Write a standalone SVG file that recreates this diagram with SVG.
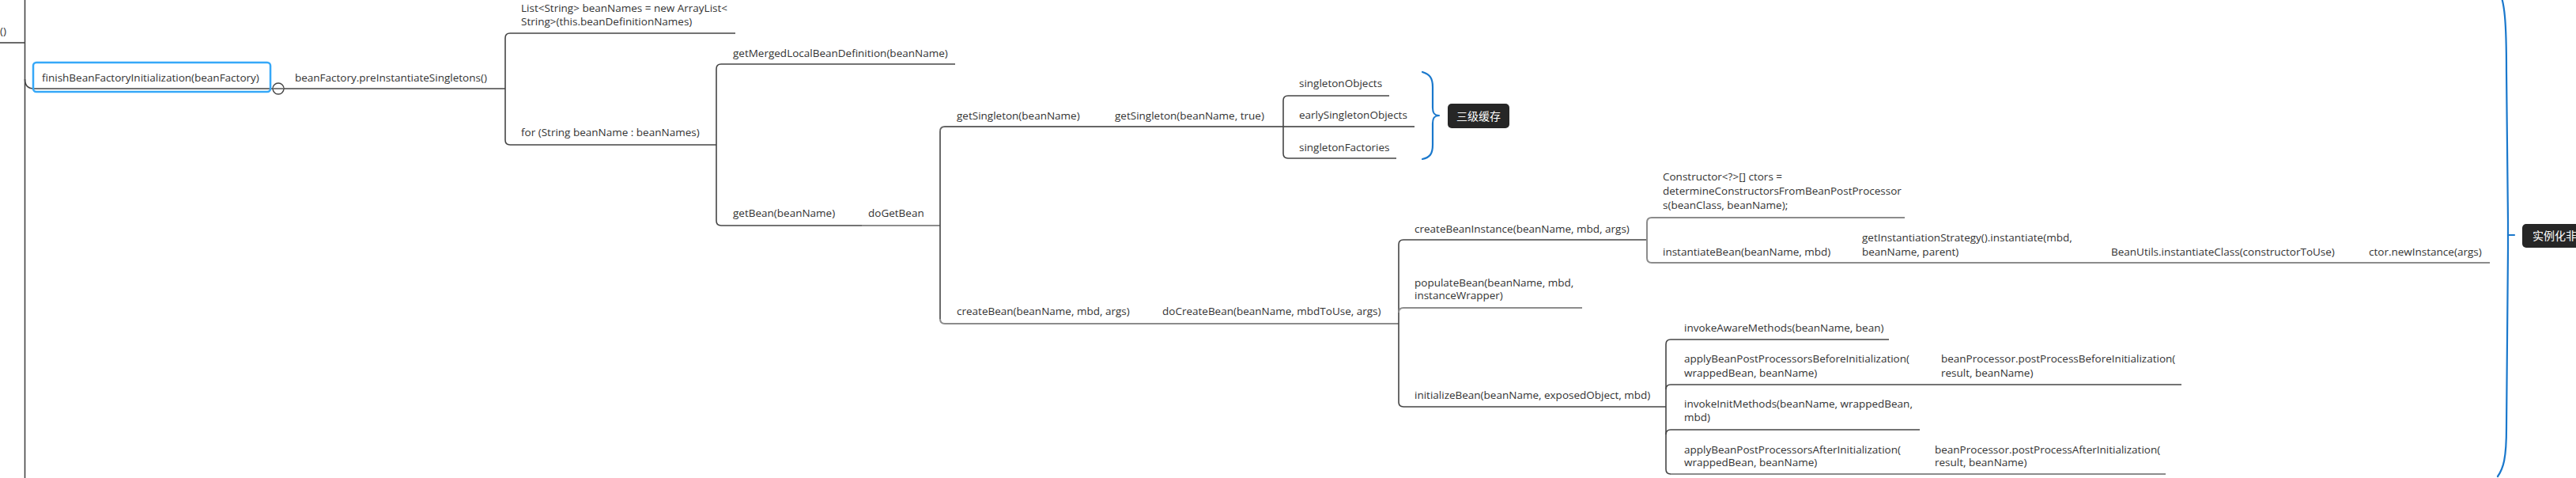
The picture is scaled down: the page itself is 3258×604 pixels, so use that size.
<svg xmlns="http://www.w3.org/2000/svg" width="3258" height="604" viewBox="0 0 3258 604">
<style>
text{font-family:"Open Sans","Noto Sans","Liberation Sans",sans-serif;font-size:13.5px;fill:#333}
.cjk{font-family:"Noto Sans CJK SC","Noto Sans",sans-serif;font-size:14px;fill:#fff}
.ln{fill:none;stroke:#454545;stroke-width:1.6}
.lg{fill:none;stroke:#8c8c8c;stroke-width:2}
.lm{fill:none;stroke:#666;stroke-width:1.8}
.blue{fill:none;stroke:#1a78cc;stroke-width:2.2;stroke-linecap:round;stroke-linejoin:round}
.tag{fill:#262626}
</style>
<rect width="3258" height="604" fill="#fff"/>
<g id="connectors">
  <path class="ln" d="M31.5,0 V604" stroke="#7a7a7a"/>
  <path class="ln" d="M0,54 H31.5"/>
  <path class="ln" d="M31.5,100 Q31.5,112 43,112 H345"/>
  <path class="ln" d="M359,112 H639"/>
  <path class="ln" d="M930,42 H645 Q639,42 639,48 V177 Q639,183 645,183 H906"/>
  <path class="ln" d="M1208,81 H912 Q906,81 906,87 V279 Q906,285 912,285 H1090"/>
  <path class="lg" d="M1090,285 H1189"/>
  <path class="lm" d="M1789,160 H1195 Q1189,160 1189,166"/>
  <path class="ln" d="M1189,166 V403"/>
  <path class="lg" d="M1189,403 Q1189,409 1195,409 H1769"/>
  <path class="ln" d="M1757,121 H1629 Q1623,121 1623,127 V194 Q1623,200 1629,200 H1766"/>
  <path class="ln" d="M2083,303 H1775 Q1769,303 1769,309 V508 Q1769,514 1775,514 H2107"/>
  <path class="lg" d="M1769,395 Q1769,389 1775,389 H2001"/>
  <path class="lg" d="M2409,275 H2089 Q2083,275 2083,281 V326 Q2083,332 2089,332 H3149"/>
  <path class="ln" d="M2389,429 H2113 Q2107,429 2107,435 V593 Q2107,599 2113,599"/>
  <path class="lg" d="M2113,599 H2739"/>
  <path class="ln" d="M2107,492 Q2107,486 2113,486 H2759"/>
  <path class="ln" d="M2107,549 Q2107,543 2113,543 H2428"/>
  <path class="blue" d="M1799,91 C1808,94 1812,98 1812,110 V136 C1812,143 1814,146 1820,146 C1814,146 1812,149 1812,156 V183 C1812,195 1808,199 1799,201"/>
  <path class="blue" d="M3160,-12 C3168,0 3170,30 3170,90 L3172,280 V314 L3170,540 C3170,580 3166,592 3159,602"/>
  <path class="blue" d="M3172,297 H3180"/>
</g>
<g id="node-root-tail"><text x="0" y="44">()</text></g>
<g id="node-finish">
  <rect x="42" y="79" width="300" height="37" rx="4" fill="none" stroke="#36a8f8" stroke-width="2.5"/>
  <text x="53" y="103">finishBeanFactoryInitialization(beanFactory)</text>
  <circle cx="352" cy="112" r="7" fill="#fff" stroke="#454545" stroke-width="1.4"/>
  <path d="M346,112 H358" stroke="#454545" stroke-width="1.4"/>
</g>
<g id="node-preInstantiate"><text x="373" y="103">beanFactory.preInstantiateSingletons()</text></g>
<g id="node-beanNames"><text x="659" y="15">List&lt;String&gt; beanNames = new ArrayList&lt;</text><text x="659" y="32">String&gt;(this.beanDefinitionNames)</text></g>
<g id="node-for"><text x="659" y="172">for (String beanName : beanNames)</text></g>
<g id="node-getMerged"><text x="927" y="72">getMergedLocalBeanDefinition(beanName)</text></g>
<g id="node-getBean"><text x="927" y="274">getBean(beanName)</text></g>
<g id="node-doGetBean"><text x="1098" y="274">doGetBean</text></g>
<g id="node-getSingleton"><text x="1210" y="151">getSingleton(beanName)</text></g>
<g id="node-getSingleton2"><text x="1410" y="151">getSingleton(beanName, true)</text></g>
<g id="node-singletonObjects"><text x="1643" y="110">singletonObjects</text></g>
<g id="node-earlySingletonObjects"><text x="1643" y="150">earlySingletonObjects</text></g>
<g id="node-singletonFactories"><text x="1643" y="191">singletonFactories</text></g>
<g id="node-cache"><rect class="tag" x="1831" y="131" width="78" height="31" rx="5"/><text class="cjk" x="1870" y="152" text-anchor="middle">三级缓存</text></g>
<g id="node-createBean"><text x="1210" y="398">createBean(beanName, mbd, args)</text></g>
<g id="node-doCreateBean"><text x="1470" y="398">doCreateBean(beanName, mbdToUse, args)</text></g>
<g id="node-createBeanInstance"><text x="1789" y="294">createBeanInstance(beanName, mbd, args)</text></g>
<g id="node-populateBean"><text x="1789" y="362">populateBean(beanName, mbd,</text><text x="1789" y="378">instanceWrapper)</text></g>
<g id="node-initializeBean"><text x="1789" y="504">initializeBean(beanName, exposedObject, mbd)</text></g>
<g id="node-ctors"><text x="2103" y="228">Constructor&lt;?&gt;[] ctors =</text><text x="2103" y="246">determineConstructorsFromBeanPostProcessor</text><text x="2103" y="264">s(beanClass, beanName);</text></g>
<g id="node-instantiateBean"><text x="2103" y="323">instantiateBean(beanName, mbd)</text></g>
<g id="node-strategy"><text x="2355" y="305">getInstantiationStrategy().instantiate(mbd,</text><text x="2355" y="323">beanName, parent)</text></g>
<g id="node-beanUtils"><text x="2670" y="323">BeanUtils.instantiateClass(constructorToUse)</text></g>
<g id="node-newInstance"><text x="2996" y="323">ctor.newInstance(args)</text></g>
<g id="node-aware"><text x="2130" y="419">invokeAwareMethods(beanName, bean)</text></g>
<g id="node-before"><text x="2130" y="458">applyBeanPostProcessorsBeforeInitialization(</text><text x="2130" y="476">wrappedBean, beanName)</text></g>
<g id="node-postBefore"><text x="2455" y="458">beanProcessor.postProcessBeforeInitialization(</text><text x="2455" y="476">result, beanName)</text></g>
<g id="node-init"><text x="2130" y="515">invokeInitMethods(beanName, wrappedBean,</text><text x="2130" y="532">mbd)</text></g>
<g id="node-after"><text x="2130" y="573">applyBeanPostProcessorsAfterInitialization(</text><text x="2130" y="589">wrappedBean, beanName)</text></g>
<g id="node-postAfter"><text x="2447" y="573">beanProcessor.postProcessAfterInitialization(</text><text x="2447" y="589">result, beanName)</text></g>
<g id="node-instantiate"><rect class="tag" x="3190" y="283" width="80" height="30" rx="5"/><text class="cjk" x="3203" y="303">实例化非</text></g>
</svg>
